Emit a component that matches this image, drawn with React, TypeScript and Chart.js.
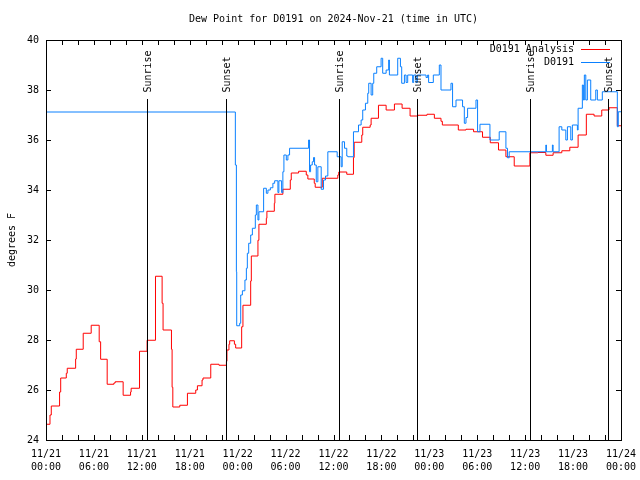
import React, { useEffect, useRef } from "react";
import { Chart, registerables } from "chart.js";

Chart.register(...registerables);

// ---- data (hours since 2024-11-21 00:00 UTC) ----
const analysisHours = [0, 0.5, 0.66, 1.7, 1.84, 2.54, 2.66, 3.71, 3.79, 4.66, 5.66, 6.66, 6.84, 7.66, 8.5, 8.66, 9.66, 10.59, 10.66, 11.71, 12.66, 13.71, 14.54, 14.66, 15.71, 15.79, 15.88, 16.75, 17.71, 18.75, 18.96, 19.54, 19.66, 20.63, 21.66, 22.59, 22.66, 22.91, 23.0, 23.59, 23.75, 24.5, 24.66, 25.63, 25.71, 26.54, 26.66, 27.59, 27.66, 28.59, 28.66, 29.66, 30.59, 30.71, 31.63, 32.59, 32.79, 33.59, 33.71, 34.59, 36.54, 36.66, 37.66, 38.5, 38.59, 39.54, 39.66, 40.59, 40.71, 41.63, 42.59, 43.63, 44.59, 45.59, 46.59, 47.71, 48.63, 49.46, 49.63, 51.63, 52.59, 53.54, 54.66, 55.63, 56.66, 57.59, 58.63, 60.59, 61.59, 62.59, 63.5, 64.59, 65.59, 66.63, 67.66, 68.63, 69.59, 70.5, 71.54, 72];
const analysisValues = [24.63, 25.0, 25.36, 25.92, 26.48, 26.67, 26.87, 27.24, 27.63, 28.27, 28.59, 27.93, 27.23, 26.23, 26.28, 26.33, 25.79, 25.92, 26.07, 27.55, 27.99, 30.55, 29.47, 28.4, 27.63, 26.11, 25.32, 25.39, 25.87, 26.0, 26.17, 26.4, 26.48, 27.03, 26.99, 27.15, 27.6, 27.83, 27.97, 27.83, 27.68, 28.53, 29.39, 30.36, 31.36, 31.99, 32.63, 32.87, 33.15, 33.47, 33.83, 34.03, 34.4, 34.68, 34.75, 34.6, 34.44, 34.27, 34.11, 34.47, 34.6, 34.72, 34.63, 35.3, 35.91, 36.2, 36.51, 36.6, 36.87, 37.39, 37.2, 37.44, 37.27, 36.96, 36.99, 37.03, 36.87, 36.75, 36.6, 36.4, 36.43, 36.33, 36.11, 35.89, 35.6, 35.33, 34.96, 35.49, 35.5, 35.39, 35.49, 35.57, 35.71, 36.2, 37.03, 36.96, 37.2, 37.29, 36.57, 36.57];

const obsHours = [0, 23.71, 23.84, 23.88, 24.25, 24.38, 24.59, 24.91, 25.09, 25.21, 25.38, 25.63, 25.84, 26.21, 26.34, 26.54, 26.66, 27.25, 27.59, 27.79, 28.09, 28.41, 28.63, 29.04, 29.16, 29.5, 29.66, 29.79, 30.09, 30.29, 30.5, 32.88, 33.0, 33.13, 33.34, 33.5, 33.63, 33.84, 34.04, 34.46, 34.75, 35.0, 35.29, 36.46, 36.96, 37.09, 37.38, 37.66, 37.79, 38.5, 39.13, 39.46, 39.66, 40.0, 40.29, 40.41, 40.71, 40.91, 41.04, 41.41, 41.96, 42.16, 42.59, 42.91, 43.0, 44.04, 44.38, 44.54, 44.88, 45.09, 45.29, 45.91, 46.04, 46.34, 46.5, 47.59, 47.79, 47.91, 48.5, 49.25, 49.46, 50.71, 50.91, 51.34, 52.16, 52.38, 52.59, 52.79, 53.84, 54.04, 54.34, 55.59, 56.75, 57.59, 57.79, 58.0, 62.59, 62.66, 63.41, 63.5, 64.25, 64.59, 65.09, 65.29, 65.71, 65.91, 66.54, 66.63, 67.16, 67.29, 67.41, 67.59, 67.79, 68.21, 68.84, 69.04, 69.66, 71.54, 71.66, 72];
const obsValues = [37.12, 35.0, 30.73, 28.57, 28.67, 29.8, 29.97, 30.4, 30.87, 31.47, 31.87, 32.2, 32.47, 33.0, 33.4, 32.8, 33.13, 34.07, 33.87, 34.0, 34.09, 34.27, 34.37, 33.9, 34.37, 33.9, 34.73, 35.4, 35.2, 35.4, 35.67, 36.0, 34.73, 35.0, 35.13, 35.3, 35.0, 34.33, 34.93, 34.03, 34.4, 34.56, 35.53, 35.33, 34.93, 35.93, 35.67, 35.36, 35.33, 36.33, 36.6, 36.8, 37.2, 37.47, 37.87, 38.27, 37.8, 38.27, 38.67, 38.93, 39.27, 38.67, 38.8, 39.2, 38.6, 39.27, 38.93, 38.27, 38.6, 38.3, 38.6, 38.3, 38.6, 38.3, 38.6, 38.5, 38.6, 38.3, 38.6, 39.0, 38.0, 38.27, 37.33, 37.6, 37.33, 36.67, 36.9, 37.27, 37.6, 36.33, 36.63, 36.0, 36.33, 35.67, 35.29, 35.53, 35.8, 35.53, 35.8, 35.53, 36.53, 36.4, 36.0, 36.53, 36.0, 36.6, 36.4, 37.27, 38.2, 37.6, 38.6, 37.6, 38.4, 37.6, 38.0, 37.6, 37.93, 36.53, 37.13, 37.13];

const sunEventHours = [12.67, 22.54, 36.67, 46.42, 60.63, 70.42];
const sunEventLabels = ["Sunrise", "Sunset", "Sunrise", "Sunset", "Sunrise", "Sunset"];

const seriesNames = ["D0191 Analysis", "D0191"];
const seriesColors = ["#ff0000", "#0a80ff"];
const tickDays = ["11/21", "11/22", "11/23", "11/24"];
const chartTitle = "Dew Point for D0191 on 2024-Nov-21 (time in UTC)";

const FONT = "'DejaVu Sans Mono', 'Liberation Mono', monospace";

const overlayPlugin = {
  id: "gnuplotOverlay",
  afterDatasetsDraw(chart: any) {
    const { ctx, chartArea, scales } = chart;
    const xs = scales.x;
    const ys = scales.y;
    const { left, right, top, bottom } = chartArea;
    ctx.save();
    // title
    ctx.fillStyle = "#000";
    ctx.font = `10px ${FONT}`;
    ctx.textAlign = "center";
    ctx.textBaseline = "middle";
    ctx.fillText(chartTitle, (left + right) / 2, 19);

    ctx.strokeStyle = "#000";
    ctx.lineWidth = 1;
    // frame
    ctx.strokeRect(Math.round(left) + 0.5, Math.round(top) + 0.5, Math.round(right - left), Math.round(bottom - top));
    // x ticks (every 2 h), inward, bottom & top
    ctx.beginPath();
    for (let h = 0; h <= 72; h += 2) {
      const px = Math.round(xs.getPixelForValue(h)) + 0.5;
      ctx.moveTo(px, bottom);
      ctx.lineTo(px, bottom - 5);
      ctx.moveTo(px, top);
      ctx.lineTo(px, top + 5);
    }
    // y ticks, inward, left & right
    for (let v = 24; v <= 40; v += 2) {
      const py = Math.round(ys.getPixelForValue(v)) + 0.5;
      ctx.moveTo(left, py);
      ctx.lineTo(left + 5, py);
      ctx.moveTo(right, py);
      ctx.lineTo(right - 5, py);
    }
    ctx.stroke();

    // legend
    ctx.textAlign = "right";
    ctx.textBaseline = "middle";
    const legY = [49.5, 62.5];
    for (let i = 0; i < seriesNames.length; i++) {
      ctx.fillText(seriesNames[i], 574, legY[i]);
      ctx.strokeStyle = seriesColors[i];
      ctx.beginPath();
      ctx.moveTo(581, Math.round(legY[i]) - 0.5);
      ctx.lineTo(610, Math.round(legY[i]) - 0.5);
      ctx.stroke();
    }

    // sunrise / sunset
    ctx.strokeStyle = "#000";
    const lineTop = ys.getPixelForValue(37.64);
    const textStart = ys.getPixelForValue(37.9);
    for (let i = 0; i < sunEventHours.length; i++) {
      const px = Math.round(xs.getPixelForValue(sunEventHours[i])) + 0.5;
      ctx.beginPath();
      ctx.moveTo(px, lineTop);
      ctx.lineTo(px, bottom);
      ctx.stroke();
      ctx.save();
      ctx.translate(px + 1, textStart);
      ctx.rotate(-Math.PI / 2);
      ctx.textAlign = "left";
      ctx.textBaseline = "middle";
      ctx.fillText(sunEventLabels[i], 0, 0);
      ctx.restore();
    }
    ctx.restore();
  },
};

export default function App() {
  const ref = useRef<HTMLCanvasElement | null>(null);
  useEffect(() => {
    if (!ref.current) return;
    const chart = new Chart(ref.current, {
      type: "line",
      data: {
        datasets: [
          {
            label: seriesNames[1],
            data: obsHours.map((h, i) => ({ x: h, y: obsValues[i] })),
            borderColor: seriesColors[1],
            borderWidth: 1,
            pointRadius: 0,
            stepped: true,
            fill: false,
            order: 1,
          },
          {
            label: seriesNames[0],
            data: analysisHours.map((h, i) => ({ x: h, y: analysisValues[i] })),
            borderColor: seriesColors[0],
            borderWidth: 1,
            pointRadius: 0,
            stepped: true,
            fill: false,
            order: 2,
          },
        ],
      },
      options: {
        animation: false,
        responsive: false,
        maintainAspectRatio: false,
        devicePixelRatio: 1,
        layout: { padding: { left: 0, right: 19, top: 40, bottom: 0 } },
        plugins: {
          legend: { display: false },
          tooltip: { enabled: false },
          title: { display: false },
        },
        scales: {
          x: {
            type: "linear",
            min: 0,
            max: 72,
            grid: { display: false, drawTicks: false },
            border: { display: false },
            afterFit: (s: any) => {
              s.height = 40;
              s.paddingLeft = 0;
              s.paddingRight = 0;
            },
            ticks: {
              stepSize: 6,
              autoSkip: false,
              maxRotation: 0,
              padding: 8,
              color: "#000",
              font: { family: FONT, size: 10, lineHeight: "13px" },
              callback: (v: any) => {
                const n = Number(v);
                const day = tickDays[Math.floor(n / 24)];
                const hr = n % 24;
                return [day, (hr < 10 ? "0" : "") + hr + ":00"];
              },
            },
          },
          y: {
            min: 24,
            max: 40,
            grid: { display: false, drawTicks: false },
            border: { display: false },
            afterFit: (s: any) => {
              s.width = 46;
              s.paddingTop = 0;
              s.paddingBottom = 0;
            },
            title: {
              display: true,
              text: "degrees F",
              color: "#000",
              font: { family: FONT, size: 10 },
              padding: { top: 6, bottom: 0 },
            },
            ticks: {
              stepSize: 2,
              padding: 7,
              color: "#000",
              font: { family: FONT, size: 10 },
            },
          },
        },
      },
      plugins: [overlayPlugin],
    });
    return () => chart.destroy();
  }, []);
  return (
    <div style={{ position: "absolute", left: 0, top: 0, width: 640, height: 480, background: "#fff" }}>
      <canvas ref={ref} width={640} height={480} />
    </div>
  );
}
